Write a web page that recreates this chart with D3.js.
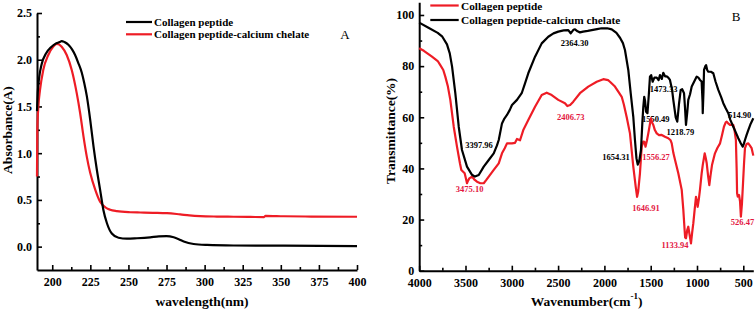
<!DOCTYPE html>
<html><head><meta charset="utf-8">
<script src="https://cdn.jsdelivr.net/npm/d3@7"></script>
<style>
html,body{margin:0;padding:0;background:#fff;}
svg{display:block;font-family:"Times New Roman","Liberation Serif",serif;}
</style></head>
<body><svg id="c" width="756" height="312"></svg>
<script>
// ---------- Panel A data: UV absorbance ----------
const uvSeriesNames = ["Collagen peptide", "Collagen peptide-calcium chelate"];
const uvPeptide = [[190,1.45],[190.5,1.65],[191.5,1.82],[193,1.95],[196,2.07],[199,2.13],[202,2.17],[205,2.19],[206.2,2.2],[208,2.19],[210.6,2.16],[213,2.11],[215,2.05],[217,1.97],[219.4,1.86],[221,1.75],[222.7,1.61],[224.9,1.36],[227.1,1.07],[229.3,0.82],[231.4,0.61],[233.6,0.39],[235.9,0.25],[239.1,0.14],[243.5,0.095],[249,0.085],[255.6,0.09],[264.3,0.1],[270,0.11],[275,0.112],[279.7,0.1],[283,0.08],[286.3,0.055],[292.8,0.028],[301.6,0.018],[319,0.012],[352,0.01],[400,0.005]];
const uvChelate = [[190,0.75],[190.2,1.25],[190.9,1.5],[192,1.68],[194.1,1.89],[197.4,2.05],[200.7,2.14],[203,2.17],[206.2,2.14],[209.5,2.05],[212.8,1.89],[216.1,1.64],[218.3,1.43],[220.5,1.18],[222.7,0.96],[224.9,0.79],[228.2,0.61],[231.4,0.48],[235.9,0.41],[238,0.395],[242.4,0.38],[251.2,0.368],[257.8,0.365],[266,0.362],[275.3,0.358],[284,0.345],[290,0.335],[297,0.327],[308,0.322],[319,0.32],[330,0.318],[339,0.316],[340,0.33],[352,0.325],[370,0.322],[400,0.32]];
const uvXTicks = [200,225,250,275,300,325,350,375,400];
const uvYTicks = [0.0,0.5,1.0,1.5,2.0,2.5];

// ---------- Panel B data: FTIR transmittance ----------
const irSeriesNames = ["Collagen peptide", "Collagen peptide-calcium chelate"];
const irPeptide = [[4000,87],[3950,86],[3862,83.7],[3800,82],[3772,80.4],[3740,78.5],[3718,75.9],[3690,72],[3664,66.8],[3627,56.3],[3592,48.5],[3560,42],[3545,39.4],[3520,38.5],[3509,38.1],[3495,36],[3484,34.2],[3475,35],[3459,36.1],[3430,36.8],[3400,35.5],[3376,34.8],[3340,34.2],[3303,34.2],[3275,35.5],[3249,36.8],[3195,39.4],[3141,42],[3106,45.9],[3075,48],[3052,49.8],[3020,49.8],[2998,49.8],[2965,50],[2944,51.5],[2911,51],[2876,55],[2822,58.9],[2749,64.1],[2677,68.7],[2623,69.6],[2569,68.7],[2498,66.8],[2426,65.5],[2400,64.4],[2370,64.8],[2336,66.1],[2264,69.4],[2174,72],[2083,73.9],[2012,74.9],[1960,74.5],[1940,73.9],[1886,72],[1850,70],[1813,68],[1790,65],[1759,60],[1724,53.7],[1688,40.7],[1662,32.9],[1647,28.9],[1635,31],[1616,38.1],[1597,48.5],[1580,50.5],[1569,50.4],[1556,48.5],[1540,51],[1526,53.7],[1510,57],[1497,59.6],[1485,58],[1472,57],[1455,55],[1435,53.7],[1410,53],[1381,53.1],[1346,52.4],[1310,51.8],[1285,51],[1273,49.8],[1255,46],[1237,43.3],[1202,38.1],[1165,31.6],[1148,24],[1134,16],[1128,13],[1119,12.7],[1105,16],[1094,17.2],[1080,14],[1065,10.7],[1052,15],[1040,18.5],[1025,24],[1011,28.9],[1000,27],[993,25],[980,28],[968,31.6],[950,38],[938,41.3],[917,45.9],[905,44],[895,42],[880,37],[867,33.5],[855,37],[838,41.3],[806,45.9],[780,48],[751,49.8],[730,53],[709,56.3],[690,58],[679,58.3],[660,57.5],[644,57],[620,57],[608,57],[595,55],[580,51.1],[572,40],[567,30.3],[560,29],[546,29.6],[535,27],[526,21.1],[515,26],[503,34.2],[492,42],[482,47.9],[465,49.5],[446,49.8],[430,49],[410,47.9],[392,45]];
const irChelate = [[4000,97],[3900,95],[3800,93],[3750,91.5],[3700,88.5],[3670,85],[3645,79.8],[3610,69.4],[3573,56.3],[3538,47.2],[3484,40.7],[3430,37.5],[3398,36.8],[3357,37.4],[3303,40.7],[3249,43.3],[3195,45.9],[3160,49],[3141,51.1],[3106,57.6],[3080,59.5],[3052,60.9],[3020,63],[2998,64.8],[2944,66.8],[2893,69.4],[2860,73],[2822,77.2],[2749,83.7],[2677,88.9],[2606,91.5],[2550,92.8],[2498,93.5],[2440,94],[2390,94.1],[2364,92.8],[2335,94.2],[2317,94.4],[2290,93.6],[2264,93.2],[2230,93.5],[2180,93.8],[2137,94.1],[2080,94.5],[2029,94.8],[1970,94.8],[1921,94.4],[1870,93],[1830,91],[1800,89],[1778,86.3],[1742,78.5],[1716,69.4],[1688,60.2],[1670,51.1],[1654,44],[1640,41.5],[1623,43],[1605,47.2],[1590,58],[1580,64],[1570,68],[1561,66.5],[1550,62.2],[1535,61.6],[1520,69],[1508,75.9],[1495,76.5],[1479,73.9],[1460,75.5],[1435,75.5],[1415,74.5],[1400,76.5],[1380,75],[1364,77.4],[1345,76],[1327,76],[1310,75.5],[1292,74.6],[1270,71],[1256,66.8],[1230,60],[1213,58.3],[1195,65],[1176,70.7],[1160,71],[1140,69.4],[1130,64],[1119,57],[1105,62],[1094,66.8],[1075,69],[1057,72],[1030,74],[1003,75.9],[985,75.5],[968,74.6],[950,74],[940,66],[938,61.6],[930,70],[924,78.5],[910,80],[902,80.4],[890,78.5],[878,77.8],[850,77.8],[824,77.2],[800,74],[770,70.7],[740,68],[716,65.5],[690,63.5],[662,61.6],[640,59],[608,56.3],[580,54],[554,51.8],[530,50],[514,49],[506,48.5],[495,49.5],[482,51.1],[465,53],[446,55],[420,57.5],[392,59.6]];
const irXTicks = [4000,3500,3000,2500,2000,1500,1000,500];
const irYTicks = [0,20,40,60,80,100];
// annotations: [text, series(0 peptide/1 chelate), wavenumber, transmittance]
const irLabels = [["3397.96",1,3354,49.2],["3475.10",0,3455,31.8],["2364.30",1,2321,89.2],["2406.73",0,2364,60.3],["1654.31",1,1875,44.3],["1646.91",0,1551,24.4],["1556.27",0,1443,44.3],["1550.49",1,1446,59.3],["1473.33",1,1360,70.9],["1218.79",1,1180,54.4],["1133.94",0,1238,10.1],["514.90",1,540,60.9],["526.47",0,509,19.2]];

const RED = "#ee1c25", LABEL_RED = "#e3173f", BLACK = "#000";
const svg = d3.select("#c");

function styleAxis(g){
  g.select(".domain").attr("stroke","#000").attr("stroke-width",2);
  g.selectAll(".tick line").attr("stroke","#000").attr("stroke-width",1.6);
  g.selectAll(".tick text").attr("font-family",'"Times New Roman","Liberation Serif",serif')
   .attr("font-weight","bold").attr("font-size",12).attr("fill","#000");
}
function minorAxis(axis, vals){ return axis.tickValues(vals).tickFormat("").tickSizeInner(-3).tickSizeOuter(0); }

// ================= Panel A =================
const xA = d3.scaleLinear().domain([190,400]).range([37,357]);
const yA = d3.scaleLinear().domain([-0.25,2.5]).range([270,13]);
const gA = svg.append("g");
const uvXMinor = d3.range(212.5,400,25);
const uvYMinor = [0.25,0.75,1.25,1.75,2.25];
gA.append("g").attr("transform","translate(0,270)").call(minorAxis(d3.axisBottom(xA),uvXMinor)).call(g=>{g.select(".domain").remove();g.selectAll("line").attr("stroke","#000").attr("stroke-width",1.6);});
gA.append("g").attr("transform","translate(37,0)").call(minorAxis(d3.axisLeft(yA),uvYMinor)).call(g=>{g.select(".domain").remove();g.selectAll("line").attr("stroke","#000").attr("stroke-width",1.6);});
gA.append("g").attr("transform","translate(0,270)")
  .call(d3.axisBottom(xA).tickValues(uvXTicks).tickFormat(d3.format("d")).tickSizeInner(-5).tickSizeOuter(0).tickPadding(7)).call(styleAxis);
gA.append("g").attr("transform","translate(37,0)")
  .call(d3.axisLeft(yA).tickValues(uvYTicks).tickFormat(d3.format(".1f")).tickSizeInner(-5).tickSizeOuter(0).tickPadding(5)).call(styleAxis);

const lineA = d3.line().x(d=>xA(d[0])).y(d=>yA(d[1])).curve(d3.curveMonotoneX);
gA.append("path").datum(uvChelate).attr("d",lineA).attr("fill","none").attr("stroke",RED).attr("stroke-width",2.2).attr("stroke-linejoin","round");
gA.append("path").datum(uvPeptide).attr("d",lineA).attr("fill","none").attr("stroke",BLACK).attr("stroke-width",2.2).attr("stroke-linejoin","round");

gA.append("text").attr("x",202).attr("y",301).attr("text-anchor","middle").attr("dominant-baseline","central")
  .attr("font-weight","bold").attr("font-size",13.5).text("wavelength(nm)");
gA.append("text").attr("transform","translate(7,130) rotate(-90)").attr("text-anchor","middle").attr("dominant-baseline","central")
  .attr("font-weight","bold").attr("font-size",13.5).text("Absorbance(A)");
// legend A
const legA = gA.append("g");
[[uvSeriesNames[0],BLACK,22],[uvSeriesNames[1],RED,34.3]].forEach(([t,c,y])=>{
  legA.append("line").attr("x1",126).attr("x2",152).attr("y1",y).attr("y2",y).attr("stroke",c).attr("stroke-width",2.2);
  legA.append("text").attr("x",154).attr("y",y).attr("dominant-baseline","central").attr("font-weight","bold").attr("font-size",11).text(t);
});
gA.append("text").attr("x",345).attr("y",34.5).attr("text-anchor","middle").attr("dominant-baseline","central").attr("font-size",13).text("A");

// ================= Panel B =================
const xB = d3.scaleLinear().domain([4000,392]).range([419.2,753.3]);
const yB = d3.scaleLinear().domain([0,105]).range([270.7,2.2]);
const gB = svg.append("g");
const irXMinor = d3.range(3750,400,-500);
const irYMinor = [10,30,50,70,90];
gB.append("g").attr("transform","translate(0,270.7)").call(minorAxis(d3.axisBottom(xB),irXMinor)).call(g=>{g.select(".domain").remove();g.selectAll("line").attr("stroke","#000").attr("stroke-width",1.6);});
gB.append("g").attr("transform","translate(419.2,0)").call(minorAxis(d3.axisLeft(yB),irYMinor)).call(g=>{g.select(".domain").remove();g.selectAll("line").attr("stroke","#000").attr("stroke-width",1.6);});
gB.append("g").attr("transform","translate(0,270.7)")
  .call(d3.axisBottom(xB).tickValues(irXTicks).tickFormat(d3.format("d")).tickSizeInner(-5).tickSizeOuter(0).tickPadding(8)).call(styleAxis);
gB.append("g").attr("transform","translate(419.2,0)")
  .call(d3.axisLeft(yB).tickValues(irYTicks).tickFormat(d3.format("d")).tickSizeInner(-5).tickSizeOuter(0).tickPadding(5)).call(styleAxis);

// annotations (drawn under curves)
gB.append("g").selectAll("text").data(irLabels).join("text")
  .attr("x",d=>xB(d[2])).attr("y",d=>yB(d[3])).attr("text-anchor","middle").attr("dominant-baseline","central")
  .attr("font-weight","bold").attr("font-size",8.5).attr("fill",d=>d[1]===0?LABEL_RED:BLACK).text(d=>d[0]);

const lineB = d3.line().x(d=>xB(d[0])).y(d=>yB(d[1]));
gB.append("path").datum(irPeptide).attr("d",lineB).attr("fill","none").attr("stroke",RED).attr("stroke-width",2.2).attr("stroke-linejoin","round");
gB.append("path").datum(irChelate).attr("d",lineB).attr("fill","none").attr("stroke",BLACK).attr("stroke-width",2.2).attr("stroke-linejoin","round");

const tW = gB.append("text").attr("x",586.7).attr("y",301).attr("text-anchor","middle").attr("dominant-baseline","central")
  .attr("font-weight","bold").attr("font-size",13.5);
tW.append("tspan").text("Wavenumber(cm");
tW.append("tspan").attr("font-size",9).attr("dy",-5).text("-1");
tW.append("tspan").attr("dy",5).text(")");
gB.append("text").attr("transform","translate(390,131) rotate(-90)").attr("text-anchor","middle").attr("dominant-baseline","central")
  .attr("font-weight","bold").attr("font-size",13.5).text("Transmittance(%)");
const legB = gB.append("g");
[[irSeriesNames[0],RED,5.5],[irSeriesNames[1],BLACK,20]].forEach(([t,c,y])=>{
  legB.append("line").attr("x1",430.3).attr("x2",458.7).attr("y1",y).attr("y2",y).attr("stroke",c).attr("stroke-width",2.2);
  legB.append("text").attr("x",461).attr("y",y).attr("dominant-baseline","central").attr("font-weight","bold").attr("font-size",11.3).text(t);
});
gB.append("text").attr("x",736).attr("y",16.7).attr("text-anchor","middle").attr("dominant-baseline","central").attr("font-size",13).text("B");
</script></body></html>
